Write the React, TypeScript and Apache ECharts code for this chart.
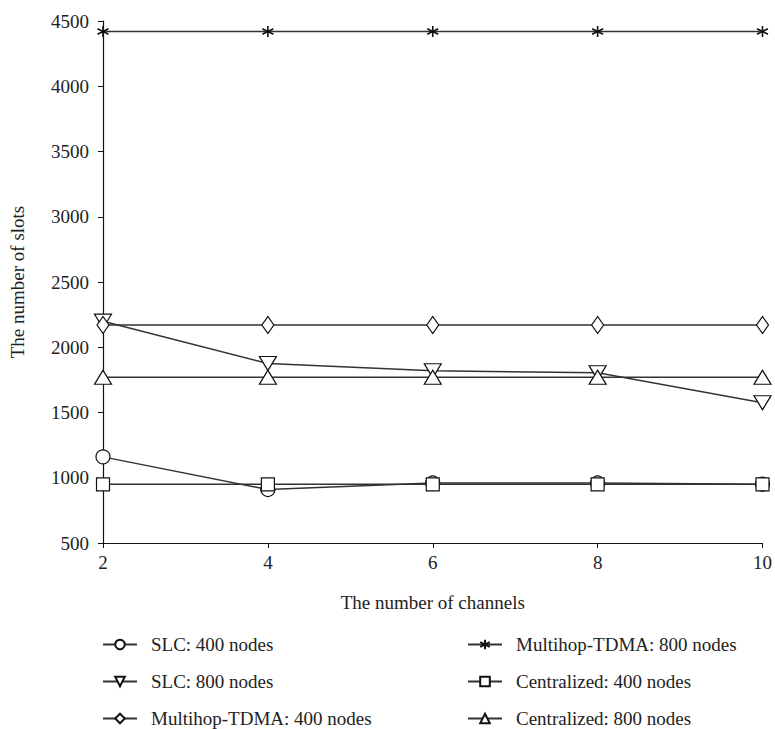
import React, { useEffect, useRef } from "react";
import * as echarts from "echarts";

const channels = [2, 4, 6, 8, 10];
const slc400 = [1160, 910, 960, 960, 950];
const slc800 = [2200, 1875, 1820, 1805, 1575];
const mtdma400 = [2170, 2170, 2170, 2170, 2170];
const mtdma800 = [4420, 4420, 4420, 4420, 4420];
const central400 = [950, 950, 950, 950, 950];
const central800 = [1770, 1770, 1770, 1770, 1770];

const names = [
  "SLC: 400 nodes",
  "SLC: 800 nodes",
  "Multihop-TDMA: 400 nodes",
  "Multihop-TDMA: 800 nodes",
  "Centralized: 400 nodes",
  "Centralized: 800 nodes",
];

const FONT = "'Liberation Serif', 'DejaVu Serif', serif";
const STAR = "path://M5,0L5,10M0.67,2.5L9.33,7.5M0.67,7.5L9.33,2.5";

export default function App() {
  const ref = useRef<HTMLDivElement>(null);
  useEffect(() => {
    document.body.style.margin = "0";
    if (!ref.current) return;
    const chart = echarts.init(ref.current, undefined, { renderer: "svg" });
    const mk = (name: string, vals: number[], symbol: string, size: any, rotate = 0, bw = 1.2) => ({
      name,
      type: "line",
      data: vals.map((v, i) => [channels[i], v]),
      symbol,
      symbolSize: size,
      symbolRotate: rotate,
      showAllSymbol: true,
      lineStyle: { color: "#333", width: 1.5 },
      itemStyle: { color: "#fff", borderColor: "#111", borderWidth: bw },
      emphasis: { disabled: true },
      clip: false,
    });
    const legendBase = {
      orient: "vertical",
      itemWidth: 34,
      itemHeight: 12,
      itemGap: 18,
      padding: 0,
      height: 110,
      textStyle: { fontFamily: FONT, fontSize: 19, color: "#222", lineHeight: 18, padding: [0, 0, 0, 9] },
      selectedMode: false,
    };
    chart.setOption({
      animation: false,
      backgroundColor: "#fff",
      grid: { left: 102, right: 10, top: 21, bottom: 186, containLabel: false },
      xAxis: {
        type: "value",
        min: 2,
        max: 10,
        interval: 2,
        name: "The number of channels",
        nameLocation: "middle",
        nameGap: 50,
        nameTextStyle: { fontFamily: FONT, fontSize: 19, color: "#222" },
        axisLine: { lineStyle: { color: "#111", width: 1.2 } },
        axisTick: { show: true, length: 5, lineStyle: { color: "#111" } },
        axisLabel: { fontFamily: FONT, fontSize: 19, color: "#222", margin: 10, formatter: (v: number) => String(v) },
        splitLine: { show: false },
      },
      yAxis: {
        type: "value",
        min: 500,
        max: 4500,
        interval: 500,
        name: "The number of slots",
        nameLocation: "middle",
        nameGap: 76,
        nameTextStyle: { fontFamily: FONT, fontSize: 19, color: "#222" },
        axisLine: { show: true, lineStyle: { color: "#111", width: 1.2 } },
        axisTick: { show: true, length: 5, lineStyle: { color: "#111" } },
        axisLabel: { fontFamily: FONT, fontSize: 19, color: "#222", margin: 14, formatter: (v: number) => String(v) },
        splitLine: { show: false },
      },
      legend: [
        { ...legendBase, left: 102, top: 635, data: names.slice(0, 3) },
        { ...legendBase, left: 467, top: 635, data: names.slice(3) },
      ],
      series: [
        mk(names[0], slc400, "circle", 14),
        mk(names[1], slc800, "triangle", [17, 14], 180),
        mk(names[2], mtdma400, "diamond", [12, 17]),
        mk(names[3], mtdma800, STAR, 11, 0, 1.6),
        mk(names[4], central400, "rect", 13),
        mk(names[5], central800, "triangle", [17, 14]),
      ],
    });
    return () => chart.dispose();
  }, []);
  return <div ref={ref} style={{ width: 775, height: 729 }} />;
}
